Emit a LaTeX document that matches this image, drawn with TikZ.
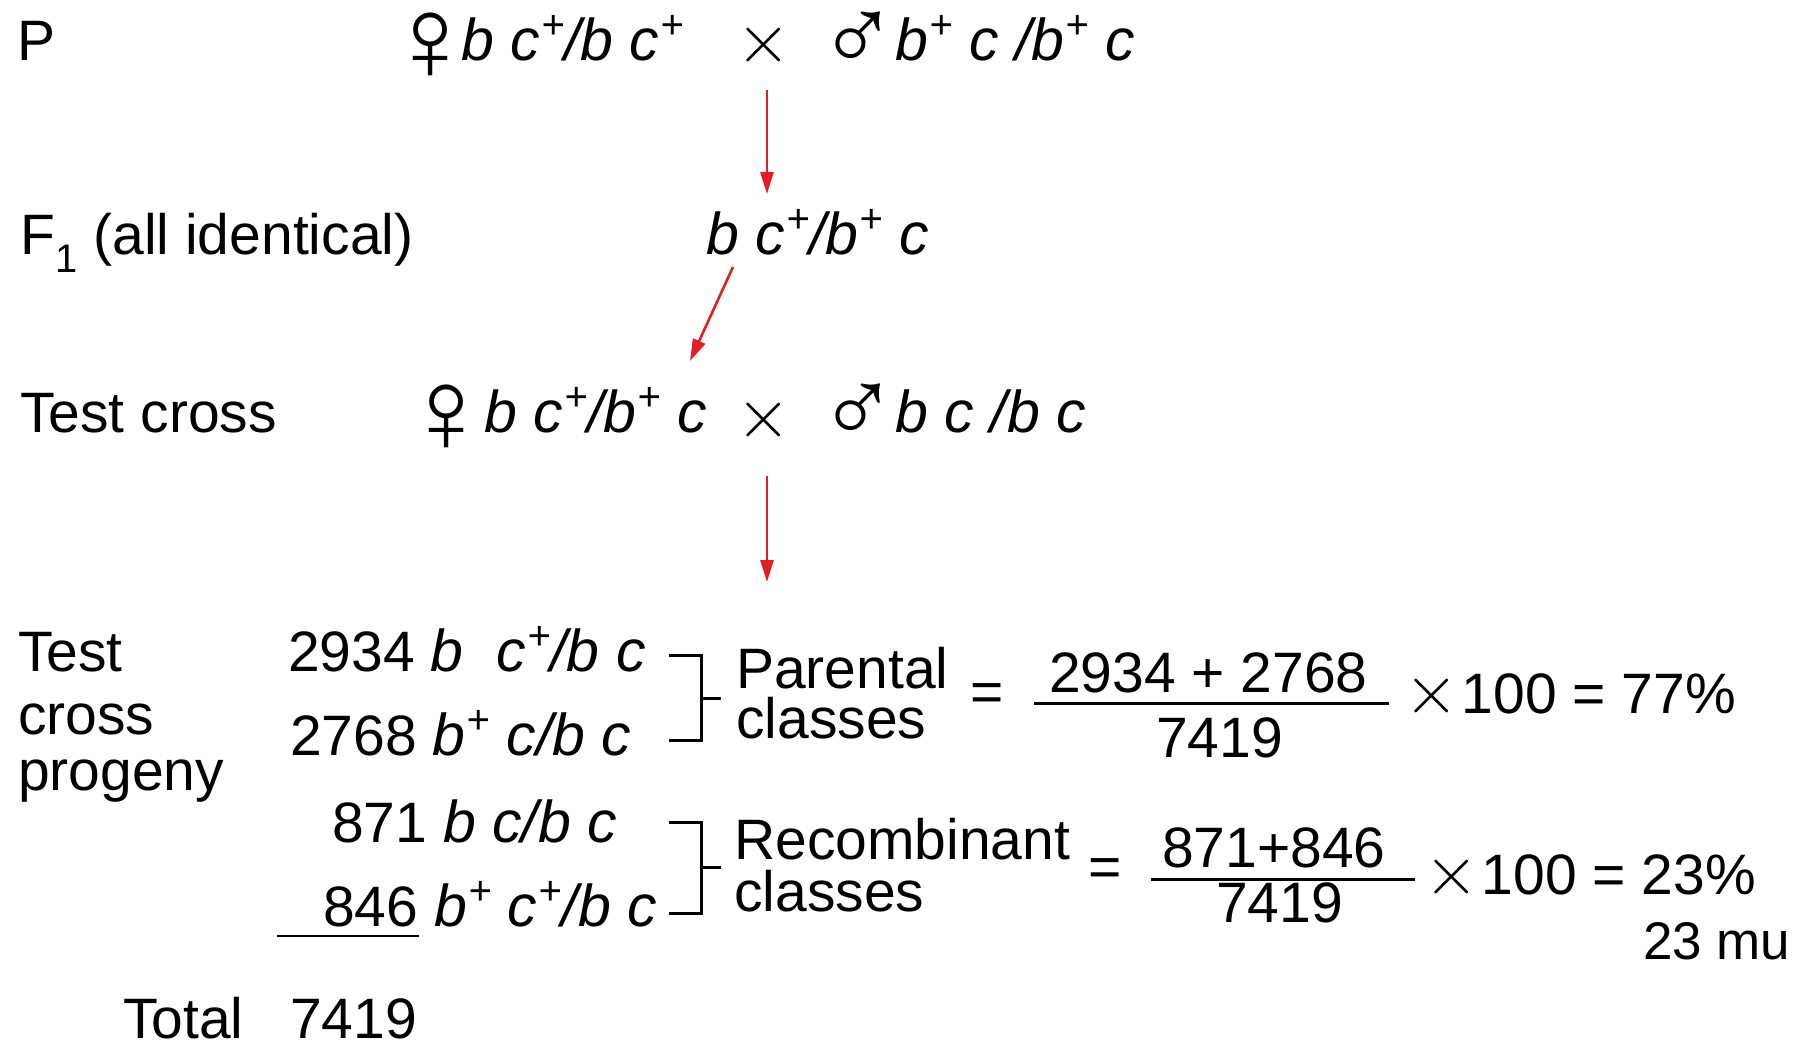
\documentclass[tikz,border=0pt]{standalone}
\usepackage{graphicx}
\usepackage{fontspec}
\setmainfont{Liberation Sans}
\usetikzlibrary{arrows.meta}
\newcommand\pls{\kern0.02em\raisebox{0.36em}{\fontsize{40}{40}\selectfont +}}
\newcommand\fem{{\fontsize{120}{120}\selectfont\upshape\smash{\raisebox{-20pt}{♀}}}}
\newcommand\mal{{\fontsize{106}{106}\selectfont\upshape\smash{\raisebox{-11pt}{♂}}}}
\newcommand\tms{{\fontsize{10}{12}\selectfont\scalebox{7}{$\times$}}}
\begin{document}
\begin{tikzpicture}[x=1pt,y=-1pt,
  txt/.style={inner sep=0pt, anchor=base west, font=\fontsize{57}{64}\selectfont},
  gen/.style={txt, font=\fontsize{59}{64}\selectfont\itshape},
  ctr/.style={inner sep=0pt, anchor=center, font=\fontsize{57}{64}\selectfont},
  arr/.style={draw={rgb,255:red,225;green,30;blue,35}, line width=2.6pt,
    -{Triangle[length=22pt,width=13pt]}},
  brk/.style={draw, line width=3pt},
  bar/.style={draw, line width=3pt}]
\useasboundingbox (0,0) rectangle (1808,1044);
% row P
\node[txt] (P) at (17,60) {P};
\node[gen] (pfem) at (385,60) {\fem\kern-14pt b c\pls/b c\pls};
\node[ctr] (cross1) at (764,45) {\tms};
\node[gen] (pmal) at (818,60) {\mal\kern-2pt b\pls{} c /b\pls{} c};
% F1
\node[txt] (F1) at (20,254) {F\textsubscript{1} (all identical)};
\node[gen] (f1gen) at (706,254) {b c\pls/b\pls{} c};
% test cross
\node[txt] (TC) at (20,432) {Test cross};
\node[gen] (tfem) at (401,432) {\fem\kern-7pt b c\pls/b\pls{} c};
\node[ctr] (cross2) at (764,420) {\tms};
\node[gen] (tmal) at (818,432) {\mal\kern-2pt b c /b c};
% arrows
\coordinate (a1s) at (767,90);  \coordinate (a1e) at (767,194);
\coordinate (a2s) at (733,267); \coordinate (a2e) at (690,361);
\coordinate (a3s) at (767,476); \coordinate (a3e) at (767,582);
\draw[arr] (a1s) -- (a1e);
\draw[arr] (a2s) -- (a2e);
\draw[arr] (a3s) -- (a3e);
% progeny labels
\node[txt] (pl1) at (18,671) {Test};
\node[txt] (pl2) at (18,734) {cross};
\node[txt] (pl3) at (18,790) {progeny};
% progeny rows
\node[txt] (r1) at (288,671) {2934 {\fontsize{59}{64}\selectfont\itshape b\ \ c\pls/b c}};
\node[txt] (r2) at (290,755) {2768 {\fontsize{59}{64}\selectfont\itshape b\pls{} c/b c}};
\node[txt] (r3) at (332,842) {871 {\fontsize{59}{64}\selectfont\itshape b c/b c}};
\node[txt] (r4) at (323,926) {846 {\fontsize{59}{64}\selectfont\itshape b\pls{} c\pls/b c}};
\coordinate (u1) at (277,936); \coordinate (u2) at (419,936);
\draw[line width=2.5pt] (u1) -- (u2);
\node[txt] (tot) at (123,1038) {Total};
\node[txt] (totn) at (290,1038) {7419};
% brackets
\coordinate (b1a) at (669,655); \coordinate (b1b) at (701,655);
\coordinate (b1c) at (701,740); \coordinate (b1d) at (669,740);
\coordinate (b1m) at (701,698); \coordinate (b1t) at (721,698);
\draw[brk] (b1a) -- (b1b) -- (b1c) -- (b1d);
\draw[brk] (b1m) -- (b1t);
\coordinate (b2a) at (669,822); \coordinate (b2b) at (701,822);
\coordinate (b2c) at (701,913); \coordinate (b2d) at (669,913);
\coordinate (b2m) at (701,867); \coordinate (b2t) at (721,867);
\draw[brk] (b2a) -- (b2b) -- (b2c) -- (b2d);
\draw[brk] (b2m) -- (b2t);
\node[txt] (par1) at (736,688) {Parental};
\node[txt] (par2) at (736,738) {classes};
\node[txt] (rec1) at (734,859) {Recombinant};
\node[txt] (rec2) at (734,911) {classes};
% equation 1
\node[ctr] (eq1) at (987,698) {=};
\node[txt] (n1) at (1049,692) {2934 + 2768};
\coordinate (f1a) at (1034,703); \coordinate (f1b) at (1389,703);
\draw[bar] (f1a) -- (f1b);
\node[txt] (d1) at (1156,757) {7419};
\node[txt] (res1) at (1404,713) {\tms\kern3pt 100 = 77\%};
% equation 2
\node[ctr] (eq2) at (1105,873) {=};
\node[txt] (n2) at (1162,867) {871+846};
\coordinate (f2a) at (1151,879); \coordinate (f2b) at (1415,879);
\draw[bar] (f2a) -- (f2b);
\node[txt] (d2) at (1216,922) {7419};
\node[txt] (res2) at (1424,894) {\tms\kern3pt 100 = 23\%};
\node[txt, font=\fontsize{53}{60}\selectfont] (mu) at (1643,959) {23 mu};
\end{tikzpicture}
\end{document}
